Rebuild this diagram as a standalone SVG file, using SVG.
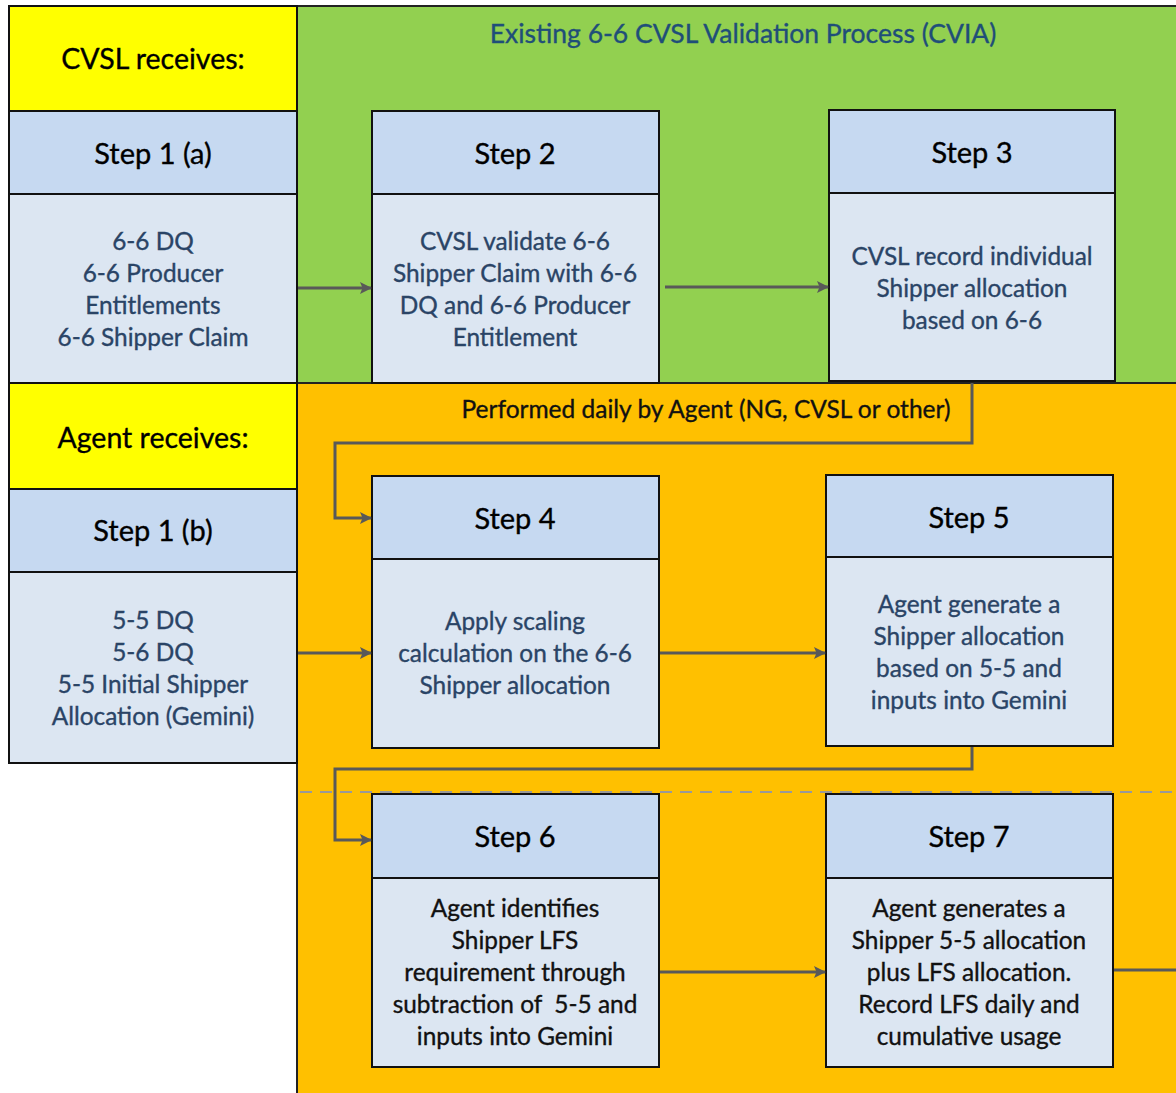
<svg xmlns="http://www.w3.org/2000/svg" width="1176" height="1093" viewBox="0 0 1176 1093">
<defs>
<style>
.t{font-family:Lato,"Open Sans","Liberation Sans",sans-serif;text-anchor:middle;stroke-width:0.35px}
.lbl{font-size:28.5px;fill:#000;stroke:#000}
.hd{font-size:29px;fill:#000;stroke:#000}
.bd{font-size:24.4px;fill:#2a4466;stroke:#2a4466}
.bk{font-size:24.4px;fill:#111;stroke:#111}
.hbox{fill:#C6D9F1;stroke:#111;stroke-width:2}
.bbox{fill:#DCE6F2;stroke:#111;stroke-width:2}
.yel{fill:#FFFF00;stroke:#111;stroke-width:2}
.c{fill:none;stroke:#595959;stroke-width:3}
</style>
<marker id="ah" markerWidth="12" markerHeight="12" refX="11" refY="6" orient="auto" markerUnits="userSpaceOnUse">
<path d="M0,0 L12,6 L0,12 L2.5,6 Z" fill="#595959"/>
</marker>
</defs>
<rect x="0" y="0" width="1176" height="1093" fill="#fff"/>
<g id="regions">
<rect x="297" y="6" width="880" height="377" fill="#92D050" stroke="#222" stroke-width="2"/>
<rect x="297" y="383" width="880" height="712" fill="#FFC000" stroke="#222" stroke-width="2"/>
<text class="t" x="743" y="43" font-size="26.5" fill="#1F4E79" stroke="#1F4E79">Existing 6-6 CVSL Validation Process (CVIA)</text>
<text class="t" x="706" y="418" font-size="24.5" fill="#111" stroke="#111">Performed daily by Agent (NG, CVSL or other)</text>
<line x1="300" y1="792" x2="1176" y2="792" stroke="#999" stroke-width="2" stroke-dasharray="12,8"/>
</g>
<g id="cvsl-receives">
<rect class="yel" x="9" y="6" width="288" height="105"/>
<text class="t lbl" x="153" y="69">CVSL receives:</text>
</g>
<g id="step1a">
<rect class="hbox" x="9" y="111" width="288" height="83"/>
<rect class="bbox" x="9" y="194" width="288" height="189"/>
<text class="t hd" x="153" y="164">Step 1 (a)</text>
<text class="t bd" x="153" y="250">6-6 DQ</text>
<text class="t bd" x="153" y="282">6-6 Producer</text>
<text class="t bd" x="153" y="314">Entitlements</text>
<text class="t bd" x="153" y="346">6-6 Shipper Claim</text>
</g>
<g id="step2">
<rect class="hbox" x="372" y="111" width="287" height="83"/>
<rect class="bbox" x="372" y="194" width="287" height="189"/>
<text class="t hd" x="515" y="164">Step 2</text>
<text class="t bd" x="515" y="250">CVSL validate 6-6</text>
<text class="t bd" x="515" y="282">Shipper Claim with 6-6</text>
<text class="t bd" x="515" y="314">DQ and 6-6 Producer</text>
<text class="t bd" x="515" y="346">Entitlement</text>
</g>
<g id="step3">
<rect class="hbox" x="829" y="110" width="286" height="83"/>
<rect class="bbox" x="829" y="193" width="286" height="188"/>
<text class="t hd" x="972" y="163">Step 3</text>
<text class="t bd" x="972" y="265">CVSL record individual</text>
<text class="t bd" x="972" y="297">Shipper allocation</text>
<text class="t bd" x="972" y="329">based on 6-6</text>
</g>
<g id="agent-receives">
<rect class="yel" x="9" y="383" width="288" height="106"/>
<text class="t lbl" x="153" y="448">Agent receives:</text>
</g>
<g id="step1b">
<rect class="hbox" x="9" y="489" width="288" height="83"/>
<rect class="bbox" x="9" y="572" width="288" height="191"/>
<text class="t hd" x="153" y="541">Step 1 (b)</text>
<text class="t bd" x="153" y="629">5-5 DQ</text>
<text class="t bd" x="153" y="661">5-6 DQ</text>
<text class="t bd" x="153" y="693">5-5 Initial Shipper</text>
<text class="t bd" x="153" y="725">Allocation (Gemini)</text>
</g>
<g id="step4">
<rect class="hbox" x="372" y="476" width="287" height="83"/>
<rect class="bbox" x="372" y="559" width="287" height="189"/>
<text class="t hd" x="515" y="529">Step 4</text>
<text class="t bd" x="515" y="630">Apply scaling</text>
<text class="t bd" x="515" y="662">calculation on the 6-6</text>
<text class="t bd" x="515" y="694">Shipper allocation</text>
</g>
<g id="step5">
<rect class="hbox" x="826" y="475" width="287" height="82"/>
<rect class="bbox" x="826" y="557" width="287" height="189"/>
<text class="t hd" x="969" y="528">Step 5</text>
<text class="t bd" x="969" y="613">Agent generate a</text>
<text class="t bd" x="969" y="645">Shipper allocation</text>
<text class="t bd" x="969" y="677">based on 5-5 and</text>
<text class="t bd" x="969" y="709">inputs into Gemini</text>
</g>
<g id="step6">
<rect class="hbox" x="372" y="794" width="287" height="84"/>
<rect class="bbox" x="372" y="878" width="287" height="189"/>
<text class="t hd" x="515" y="847">Step 6</text>
<text class="t bk" x="515" y="917">Agent identifies</text>
<text class="t bk" x="515" y="949">Shipper LFS</text>
<text class="t bk" x="515" y="981">requirement through</text>
<text class="t bk" x="515" y="1013" xml:space="preserve">subtraction of  5-5 and</text>
<text class="t bk" x="515" y="1045">inputs into Gemini</text>
</g>
<g id="step7">
<rect class="hbox" x="826" y="794" width="287" height="84"/>
<rect class="bbox" x="826" y="878" width="287" height="189"/>
<text class="t hd" x="969" y="847">Step 7</text>
<text class="t bk" x="969" y="917">Agent generates a</text>
<text class="t bk" x="969" y="949">Shipper 5-5 allocation</text>
<text class="t bk" x="969" y="981">plus LFS allocation.</text>
<text class="t bk" x="969" y="1013">Record LFS daily and</text>
<text class="t bk" x="969" y="1045">cumulative usage</text>
</g>
<g id="connectors">
<line class="c" x1="298" y1="288" x2="371" y2="288" marker-end="url(#ah)"/>
<line class="c" x1="665" y1="287" x2="828" y2="287" marker-end="url(#ah)"/>
<line class="c" x1="298" y1="653" x2="371" y2="653" marker-end="url(#ah)"/>
<line class="c" x1="660" y1="653" x2="825" y2="653" marker-end="url(#ah)"/>
<line class="c" x1="660" y1="972" x2="825" y2="972" marker-end="url(#ah)"/>
<line class="c" x1="1114" y1="970" x2="1176" y2="970"/>
<polyline class="c" points="972,383 972,443 335,443 335,518 371,518" marker-end="url(#ah)"/>
<polyline class="c" points="972,747 972,769 335,769 335,840 371,840" marker-end="url(#ah)"/>
</g>
</svg>
